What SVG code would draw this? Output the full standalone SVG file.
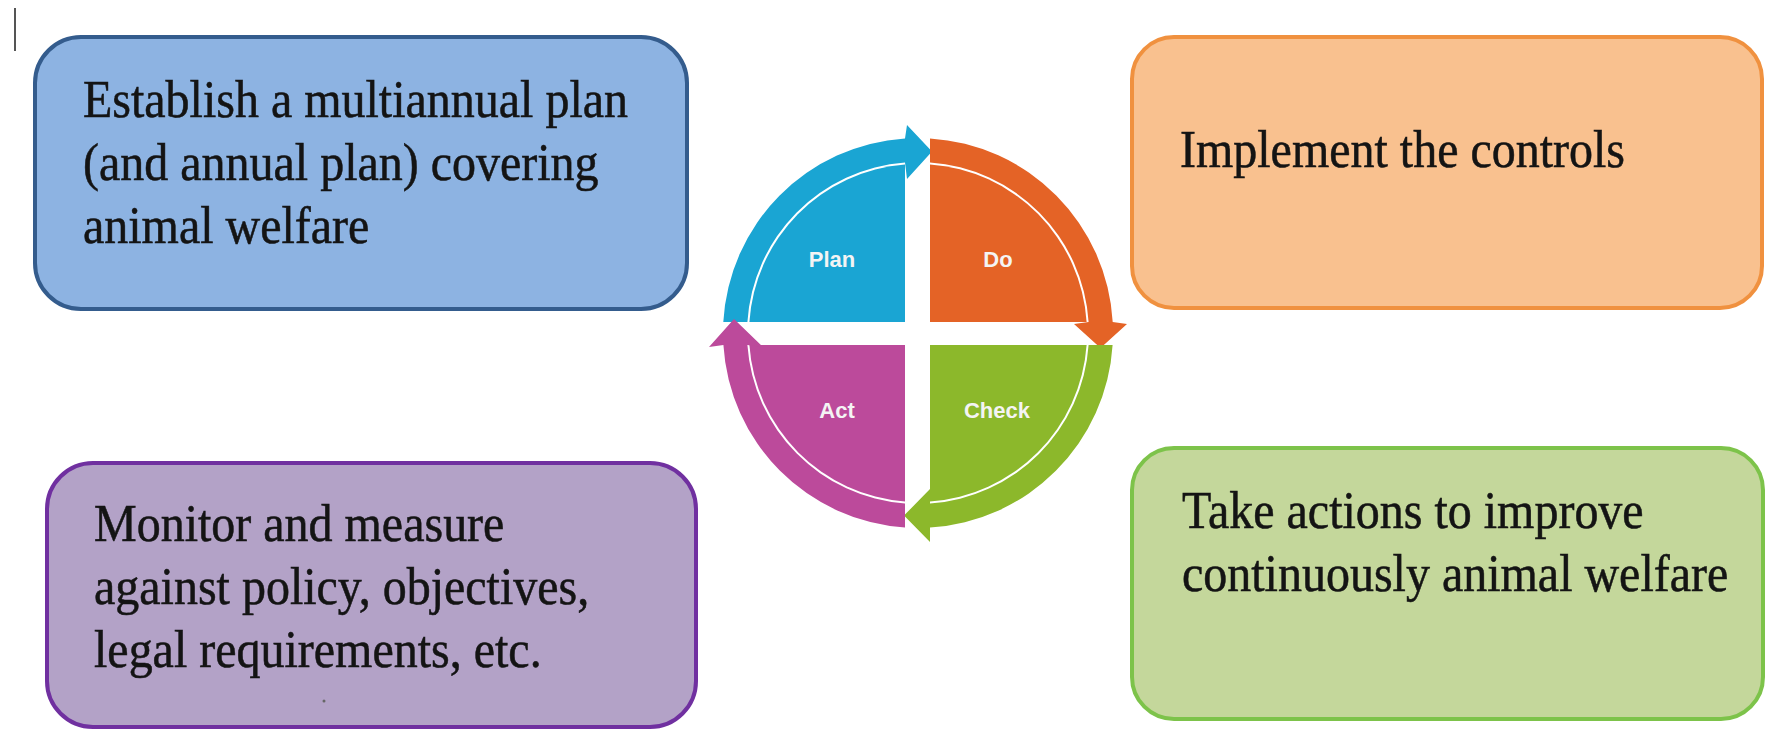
<svg xmlns="http://www.w3.org/2000/svg" width="1766" height="732" viewBox="0 0 1766 732">
<style>
.box{stroke-width:4}
.t{font-family:"Liberation Serif","Times New Roman",serif;font-size:48px;fill:#141414;stroke:#141414;stroke-width:0.5}
.q{font-family:"Liberation Sans",Arial,sans-serif;font-size:22px;font-weight:bold;fill:#F4F4F4;text-anchor:middle}
</style>
<rect x="0" y="0" width="1766" height="732" fill="#FFFFFF"/>
<line x1="15" y1="8" x2="15" y2="51" stroke="#555" stroke-width="2"/>
<g id="plan-box">
<rect class="box" x="35" y="37" width="652" height="272" rx="46" fill="#8DB3E2" stroke="#345C8D"/>
<text class="t" transform="translate(83,117) scale(1,1.1)">Establish a multiannual plan</text>
<text class="t" transform="translate(83,180) scale(1,1.1)">(and annual plan) covering</text>
<text class="t" transform="translate(83,243) scale(1,1.1)">animal welfare</text>
</g>
<g id="do-box">
<rect class="box" x="1132" y="37" width="630" height="271" rx="42" fill="#F9C18F" stroke="#F0913F"/>
<text class="t" transform="translate(1180,167) scale(1,1.1)">Implement the controls</text>
</g>
<g id="check-box">
<rect class="box" x="47" y="463" width="649" height="264" rx="46" fill="#B3A2C7" stroke="#7030A0"/>
<text class="t" transform="translate(94,541) scale(1,1.1)">Monitor and measure</text>
<text class="t" transform="translate(94,604) scale(1,1.1)">against policy, objectives,</text>
<text class="t" transform="translate(94,667) scale(1,1.1)">legal requirements, etc.</text>
<circle cx="324" cy="701" r="1.5" fill="#666"/>
</g>
<g id="act-box">
<rect class="box" x="1132" y="448" width="631" height="271" rx="42" fill="#C4D79B" stroke="#7DC34A"/>
<text class="t" transform="translate(1182,528) scale(1,1.1)">Take actions to improve</text>
<text class="t" transform="translate(1182,591) scale(1,1.1)">continuously animal welfare</text>
</g>
<g id="cycle">
<g id="plan">
<path d="M905,322 L905,164.5 A169,169 0 0 0 749.4,322 Z" fill="#1AA5D3"/>
<path d="M723.3,322 A195,195 0 0 1 905,138.4 L907,125 L932,151.5 L907,179 L905,162.5 A171,171 0 0 0 747.4,322 Z" fill="#1AA5D3"/>
<text class="q" x="832" y="267">Plan</text>
</g>
<g id="do">
<path d="M930,322 L930,164.4 A169,169 0 0 1 1086.6,322 Z" fill="#E46326"/>
<path d="M930,138.4 A195,195 0 0 1 1112.7,322 L1127,324 L1100.5,348 L1074,324 L1088.6,322 A171,171 0 0 0 930,162.4 Z" fill="#E46326"/>
<text class="q" x="998" y="267">Do</text>
</g>
<g id="check">
<path d="M930,345 L1086.6,345 A169,169 0 0 1 930,501.6 Z" fill="#8CB82B"/>
<path d="M1112.6,345 A195,195 0 0 1 930,527.6 L930,542 L904,515.6 L930,489 L930,503.6 A171,171 0 0 0 1088.6,345 Z" fill="#8CB82B"/>
<text class="q" x="997" y="418">Check</text>
</g>
<g id="act">
<path d="M905,345 L905,501.5 A169,169 0 0 1 749.4,345 Z" fill="#BC4A9B"/>
<path d="M905,527.6 A195,195 0 0 1 723.4,345 L709,347 L734,319 L763,347 L747.4,345 A171,171 0 0 0 905,503.5 Z" fill="#BC4A9B"/>
<text class="q" x="837" y="418">Act</text>
</g>
</g>
</svg>
